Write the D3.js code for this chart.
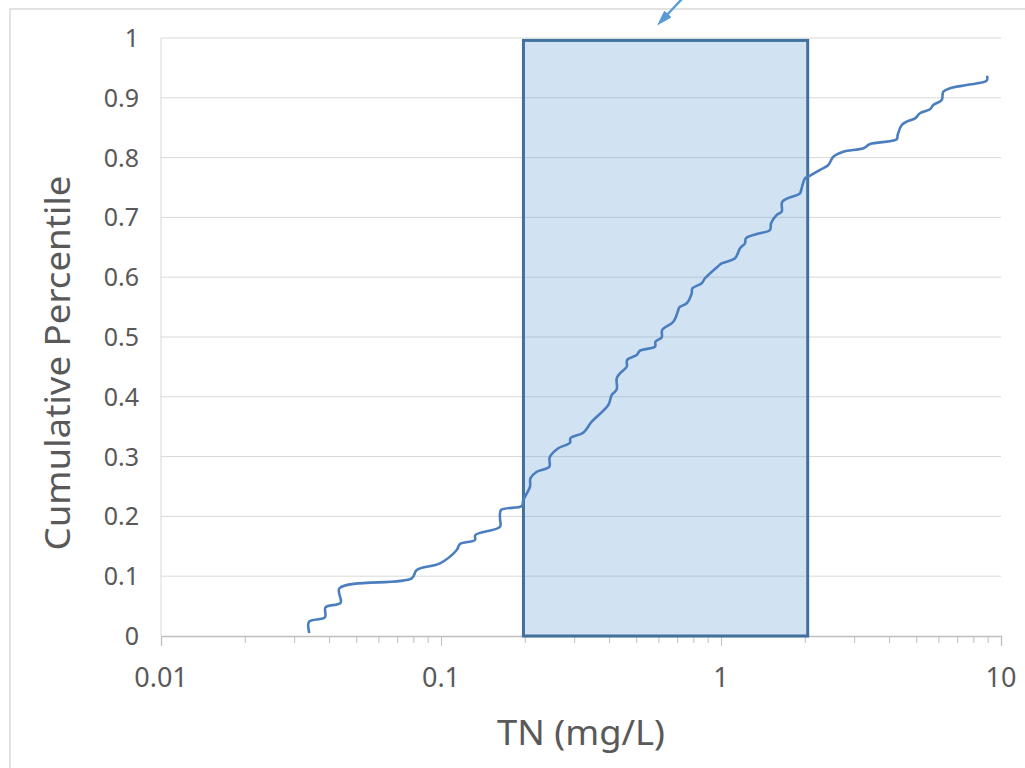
<!DOCTYPE html>
<html>
<head>
<meta charset="utf-8">
<script src="https://cdn.jsdelivr.net/npm/d3@7"></script>
<style>
  body { margin: 0; background: #fff; }
  svg { display: block; }
</style>
</head>
<body>
<script>
// TN concentration (mg/L) and cumulative percentile
const tnValues = [0.0338, 0.0338, 0.0385, 0.0387, 0.0438, 0.0434, 0.0786, 0.0819, 0.0992, 0.1138,
    0.1169, 0.1322, 0.1327, 0.1624, 0.1624, 0.1638, 0.1942, 0.1968, 0.2079, 0.2087,
    0.2197, 0.2437, 0.2445, 0.2624, 0.2888, 0.2899, 0.3222, 0.3453, 0.3959, 0.4071,
    0.4242, 0.4242, 0.4359, 0.4604, 0.4622, 0.5000, 0.5138, 0.5812, 0.5835, 0.6141,
    0.6164, 0.6757, 0.7038, 0.7096, 0.7541, 0.7858, 0.7904, 0.8533, 0.8767, 0.978,
    1.0058, 1.122, 1.1693, 1.218, 1.2275, 1.3414, 1.4962, 1.5095, 1.5806, 1.6474,
    1.656, 1.9149, 1.9336, 1.9953, 2.05, 2.2574, 2.4165, 2.518, 2.734, 3.223,
    3.405, 4.242, 4.275, 4.421, 4.606, 4.932, 5.138, 5.577, 5.73, 6.141,
    6.22, 6.575, 7.541, 8.891, 8.93];
const pctValues = [0.0067, 0.024, 0.0313, 0.048, 0.0557, 0.0798, 0.0965, 0.1104, 0.1216, 0.1438,
    0.1538, 0.1605, 0.1689, 0.1828, 0.1968, 0.2107, 0.2174, 0.2274, 0.2497, 0.2637,
    0.2747, 0.2831, 0.2988, 0.3139, 0.3232, 0.3306, 0.340, 0.3584, 0.3863, 0.403,
    0.4125, 0.4309, 0.4393, 0.4503, 0.4615, 0.4699, 0.4771, 0.4838, 0.4921, 0.4995,
    0.5117, 0.5256, 0.5452, 0.5497, 0.5564, 0.5731, 0.5814, 0.5898, 0.5982, 0.6187,
    0.6232, 0.6316, 0.6483, 0.6567, 0.665, 0.6722, 0.6789, 0.6901, 0.704, 0.7095,
    0.7263, 0.7403, 0.7458, 0.7654, 0.7681, 0.7793, 0.7876, 0.8015, 0.8099, 0.8155,
    0.8227, 0.8306, 0.8378, 0.8545, 0.86, 0.8657, 0.8741, 0.8808, 0.888, 0.8963,
    0.9102, 0.9159, 0.9214, 0.9286, 0.9353];

// shaded range and the arrow above it
const rangeX = [0.197, 2.04];
const rangeY = [0, 0.996];
const arrowX = [0.731, 0.641];
const arrowY = [1.067, 1.015];

const xTicks = [0.01, 0.1, 1, 10];
const xTickLabels = ["0.01", "0.1", "1", "10"];
const yTicks = [0, 0.1, 0.2, 0.3, 0.4, 0.5, 0.6, 0.7, 0.8, 0.9, 1];

const width = 1025;
const height = 768;
const plot = { left: 161, right: 1001, top: 38, bottom: 636 };
const font = "'Noto Sans', 'Open Sans', sans-serif";
const textColor = "#595959";

var x = d3.scaleLog().domain([0.01, 10]).range([plot.left, plot.right]);
var y = d3.scaleLinear().domain([0, 1]).range([plot.bottom, plot.top]);

var svg = d3.select("body")
    .append("svg")
    .attr("width", width)
    .attr("height", height)

// chart frame (cut off on the right and bottom)
svg.append("path")
    .attr("d", "M10," + height + "V9H" + width)
    .attr("fill", "none")
    .attr("stroke", "#d9d9d9")
    .attr("stroke-width", 1.5)

// horizontal gridlines
svg.append("g")
    .selectAll("line")
    .data(yTicks.filter(d => d > 0))
    .enter()
    .append("line")
    .attr("x1", plot.left)
    .attr("x2", plot.right)
    .attr("y1", d => y(d))
    .attr("y2", d => y(d))
    .attr("stroke", "#d9d9d9")
    .attr("stroke-width", 1)

// left axis line
svg.append("line")
    .attr("x1", plot.left).attr("x2", plot.left)
    .attr("y1", y(1)).attr("y2", plot.bottom)
    .attr("stroke", "#d9d9d9")

// y tick labels
svg.append("g")
    .selectAll("text")
    .data(yTicks)
    .enter()
    .append("text")
    .attr("x", 139)
    .attr("y", d => y(d) + 9)
    .attr("text-anchor", "end")
    .attr("font-family", font)
    .attr("font-size", 25)
    .attr("fill", textColor)
    .text(d => d === 0 || d === 1 ? String(d) : d.toFixed(1))

// x axis: major ticks at decades, minor ticks in between
var xAxis = d3.axisBottom(x)
    .tickValues(xTicks)
    .tickSize(10)
    .tickFormat("");
svg.append("g")
    .attr("transform", "translate(0," + plot.bottom + ")")
    .call(xAxis)
    .call(g => g.select(".domain").attr("stroke", "#bfbfbf").attr("stroke-width", 1.3))
    .call(g => g.selectAll(".tick line").attr("stroke", "#bfbfbf"))

var minorTicks = [];
[0.01, 0.1, 1].forEach(dec => {
    for (let k = 2; k <= 9; k++) minorTicks.push(dec * k);
});
svg.append("g")
    .selectAll("line")
    .data(minorTicks)
    .enter()
    .append("line")
    .attr("x1", d => x(d)).attr("x2", d => x(d))
    .attr("y1", plot.bottom).attr("y2", plot.bottom + 7)
    .attr("stroke", "#bfbfbf")

svg.append("g")
    .selectAll("text")
    .data(xTicks)
    .enter()
    .append("text")
    .attr("x", d => x(d))
    .attr("y", 687)
    .attr("text-anchor", "middle")
    .attr("font-family", font)
    .attr("font-size", 27)
    .attr("fill", textColor)
    .text((d, i) => xTickLabels[i])

// shaded box
svg.append("rect")
    .attr("x", x(rangeX[0]))
    .attr("y", y(rangeY[1]))
    .attr("width", x(rangeX[1]) - x(rangeX[0]))
    .attr("height", y(rangeY[0]) - y(rangeY[1]))
    .attr("fill", "rgba(91,155,213,0.28)")
    .attr("stroke", "#41719c")
    .attr("stroke-width", 3)

// cumulative distribution curve
var line = d3.line()
    .x(d => x(d[0]))
    .y(d => y(d[1]))
    .curve(d3.curveCatmullRom.alpha(0.5));

svg.append("path")
    .datum(d3.zip(tnValues, pctValues))
    .attr("d", line)
    .attr("fill", "none")
    .attr("stroke", "#4a7ebf")
    .attr("stroke-width", 2.6)
    .attr("stroke-linecap", "round")

// arrow pointing at the box
svg.append("defs")
    .append("marker")
    .attr("id", "head")
    .attr("viewBox", "0 0 10 10")
    .attr("preserveAspectRatio", "none")
    .attr("refX", 1).attr("refY", 5)
    .attr("markerWidth", 16).attr("markerHeight", 10)
    .attr("markerUnits", "userSpaceOnUse")
    .attr("orient", "auto")
    .append("path")
    .attr("d", "M0,0L10,5L0,10Z")
    .attr("fill", "#5b9bd5")

svg.append("line")
    .attr("x1", x(arrowX[0])).attr("y1", y(arrowY[0]))
    .attr("x2", x(arrowX[1])).attr("y2", y(arrowY[1]) - 14)
    .attr("stroke", "#5b9bd5")
    .attr("stroke-width", 2.4)
    .attr("marker-end", "url(#head)")

// axis titles
svg.append("text")
    .attr("transform", "translate(70," + ((plot.top + plot.bottom) / 2 + 26) + ") rotate(-90)")
    .attr("text-anchor", "middle")
    .attr("font-family", font)
    .attr("font-size", 35)
    .attr("textLength", 375)
    .attr("lengthAdjust", "spacingAndGlyphs")
    .attr("fill", textColor)
    .text("Cumulative Percentile")

svg.append("text")
    .attr("x", 581)
    .attr("y", 745)
    .attr("text-anchor", "middle")
    .attr("font-family", font)
    .attr("font-size", 35)
    .attr("textLength", 168)
    .attr("lengthAdjust", "spacingAndGlyphs")
    .attr("fill", textColor)
    .text("TN (mg/L)")
</script>
</body>
</html>
